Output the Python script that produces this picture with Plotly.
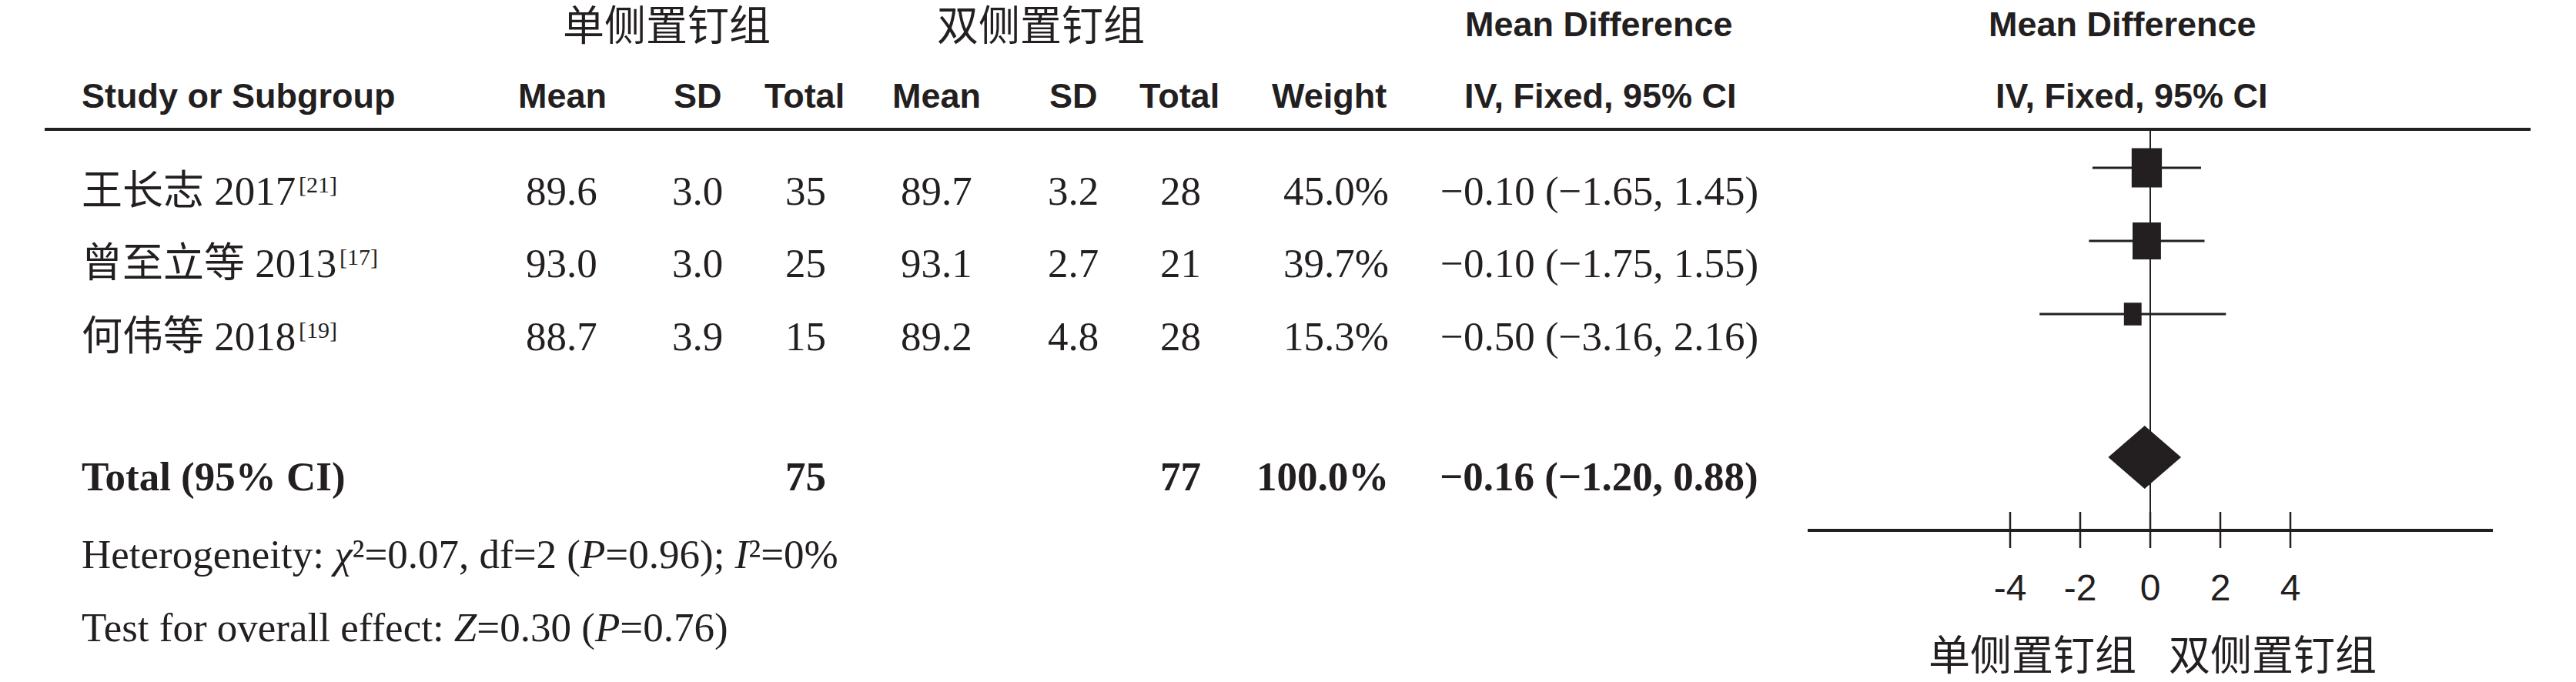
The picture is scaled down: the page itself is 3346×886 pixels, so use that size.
import plotly.graph_objects as go

W, H = 3346, 886

# ---- data ----
study_names = ["王长志", "曾至立等", "何伟等"]
study_years = ["2017", "2013", "2018"]
study_refs = ["21", "17", "19"]
uni_mean = [89.6, 93.0, 88.7]
uni_sd = [3.0, 3.0, 3.9]
uni_n = [35, 25, 15]
bi_mean = [89.7, 93.1, 89.2]
bi_sd = [3.2, 2.7, 4.8]
bi_n = [28, 21, 28]
weights = [45.0, 39.7, 15.3]
md = [-0.10, -0.10, -0.50]
ci_low = [-1.65, -1.75, -3.16]
ci_high = [1.45, 1.55, 2.16]

total_uni_n = 75
total_bi_n = 77
total_weight = 100.0
total_md = -0.16
total_low = -1.20
total_high = 0.88

het_chi2 = 0.07
het_df = 2
het_p = 0.96
het_i2 = 0
z_value = 0.30
z_p = 0.76

tick_vals = [-4, -2, 0, 2, 4]
tick_text = ["-4", "-2", "0", "2", "4"]
group_left = "单侧置钉组"
group_right = "双侧置钉组"

# ---- layout constants (pixels from the top) ----
SERIF = "Liberation Serif, Times New Roman, Noto Sans CJK SC, serif"
SANS = "Liberation Sans, Arial, sans-serif"
CJK = "Liberation Sans, Noto Sans CJK SC, sans-serif"
BODY = 53
HEAD = 45
CJK_SIZE = 54
REF_SIZE = 30

row_text_y = [248, 342, 437]
row_mark_y = [218, 313, 408]
total_text_y = 619
total_mark_y = 594
het_y = 720
test_y = 815
head1_y = 31
head1_cjk_y = 34
head2_y = 124
rule_y = 168
axis_y = 689
tick_top, tick_bot = 665, 712
tick_label_y = 768
axis_label_y = 852
name_x = 104

px_per_unit = 45.5
plot_left, plot_right = 2348, 3238
x_range = [-(2793 - plot_left) / px_per_unit, (plot_right - 2793) / px_per_unit]

INK = "#231f20"


def fmt_md(m, lo, hi):
    f = lambda v: f"{v:.2f}".replace("-", "\u2212")
    return f"{f(m)} ({f(lo)}, {f(hi)})"


annotations = []


def add_text(text, x, y, size=BODY, family=SERIF, anchor="center", bold=False):
    annotations.append(dict(
        text=f"<b>{text}</b>" if bold else text,
        x=x / W, xref="paper", y=y, yref="y",
        xanchor=anchor, yanchor="middle", showarrow=False,
        font=dict(family=family, size=size, color=INK),
    ))


# header
add_text(group_left, 866, head1_cjk_y, size=CJK_SIZE, family=CJK)
add_text(group_right, 1352, head1_cjk_y, size=CJK_SIZE, family=CJK)
add_text("Mean Difference", 2077, head1_y, size=HEAD, family=SANS, bold=True)
add_text("Mean Difference", 2757, head1_y, size=HEAD, family=SANS, bold=True)

add_text("Study or Subgroup", name_x, head2_y, size=HEAD, family=SANS, anchor="left", bold=True)
for label, cx in [("Mean", 730), ("SD", 906), ("Total", 1045),
                  ("Mean", 1216), ("SD", 1394), ("Total", 1532)]:
    add_text(label, cx, head2_y, size=HEAD, family=SANS, bold=True)
add_text("Weight", 1803, head2_y, size=HEAD, family=SANS, anchor="right", bold=True)
add_text("IV, Fixed, 95% CI", 2079, head2_y, size=HEAD, family=SANS, bold=True)
add_text("IV, Fixed, 95% CI", 2769, head2_y, size=HEAD, family=SANS, bold=True)

# study rows
for i, y in enumerate(row_text_y):
    add_text(f"{study_names[i]} {study_years[i]}", name_x, y, anchor="left")
    # citation mark set small and raised just after the study label
    label_end = name_x + BODY * (len(study_names[i]) + 0.25 + 0.5 * len(study_years[i]))
    add_text(f"[{study_refs[i]}]", label_end + 4, y - 9, size=REF_SIZE, anchor="left")
    add_text(f"{uni_mean[i]:.1f}", 729, y)
    add_text(f"{uni_sd[i]:.1f}", 906, y)
    add_text(f"{uni_n[i]}", 1046, y)
    add_text(f"{bi_mean[i]:.1f}", 1216, y)
    add_text(f"{bi_sd[i]:.1f}", 1394, y)
    add_text(f"{bi_n[i]}", 1533, y)
    add_text(f"{weights[i]:.1f}%", 1806, y, anchor="right")
    add_text(fmt_md(md[i], ci_low[i], ci_high[i]), 2077, y)

# total row
add_text("Total (95% CI)", name_x, total_text_y, anchor="left", bold=True)
add_text(f"{total_uni_n}", 1046, total_text_y, bold=True)
add_text(f"{total_bi_n}", 1533, total_text_y, bold=True)
add_text(f"{total_weight:.1f}%", 1806, total_text_y, anchor="right", bold=True)
add_text(fmt_md(total_md, total_low, total_high), 2077, total_text_y, bold=True)

add_text(f"Heterogeneity: <i>χ</i>²={het_chi2:.2f}, df={het_df} "
         f"(<i>P</i>={het_p:.2f}); <i>I</i>²={het_i2}%", name_x, het_y, anchor="left")
add_text(f"Test for overall effect: <i>Z</i>={z_value:.2f} (<i>P</i>={z_p:.2f})",
         name_x, test_y, anchor="left")

# direction labels under the axis
add_text(group_left, 2640, axis_label_y, size=CJK_SIZE, family=CJK)
add_text(group_right, 2952, axis_label_y, size=CJK_SIZE, family=CJK)

fig = go.Figure()

# line of no effect
fig.add_trace(go.Scatter(x=[0, 0], y=[rule_y + 2, tick_bot], mode="lines",
                         line=dict(color=INK, width=2), hoverinfo="skip"))

# confidence intervals
ci_x, ci_y = [], []
for lo, hi, y in zip(ci_low, ci_high, row_mark_y):
    ci_x += [lo, hi, None]
    ci_y += [y, y, None]
fig.add_trace(go.Scatter(x=ci_x, y=ci_y, mode="lines",
                         line=dict(color=INK, width=3), hoverinfo="skip"))

# weight boxes (area proportional to weight)
bx, by = [], []
for m, w, y in zip(md, weights, row_mark_y):
    h = 7.6 * w ** 0.5
    half_w = 0.77 * h / 2 / px_per_unit
    bx += [m - half_w, m + half_w, m + half_w, m - half_w, m - half_w, None]
    by += [y - h / 2, y - h / 2, y + h / 2, y + h / 2, y - h / 2, None]
fig.add_trace(go.Scatter(x=bx, y=by, mode="lines", fill="toself", fillcolor=INK,
                         line=dict(color=INK, width=0), hoverinfo="skip"))

# pooled estimate diamond
fig.add_trace(go.Scatter(
    x=[total_low, total_md, total_high, total_md, total_low],
    y=[total_mark_y, total_mark_y - 41, total_mark_y, total_mark_y + 41, total_mark_y],
    mode="lines", fill="toself", fillcolor=INK, line=dict(color=INK, width=0),
    hoverinfo="skip"))

# axis line and ticks
fig.add_trace(go.Scatter(x=x_range, y=[axis_y, axis_y], mode="lines",
                         line=dict(color=INK, width=4), hoverinfo="skip"))
tx, ty = [], []
for t in tick_vals:
    tx += [t, t, None]
    ty += [tick_top, tick_bot, None]
fig.add_trace(go.Scatter(x=tx, y=ty, mode="lines",
                         line=dict(color=INK, width=2.5), hoverinfo="skip"))
fig.add_trace(go.Scatter(x=tick_vals, y=[tick_label_y] * len(tick_vals), mode="text",
                         text=tick_text, textposition="middle center",
                         textfont=dict(family=SANS, size=48, color=INK),
                         hoverinfo="skip"))

fig.update_layout(
    width=W, height=H,
    margin=dict(l=0, r=0, t=0, b=0),
    paper_bgcolor="white", plot_bgcolor="white",
    showlegend=False,
    xaxis=dict(domain=[plot_left / W, plot_right / W], range=x_range, visible=False,
               fixedrange=True),
    yaxis=dict(domain=[0, 1], range=[H, 0], visible=False, fixedrange=True),
    annotations=annotations,
    shapes=[dict(type="line", xref="paper", yref="y", x0=58 / W, x1=3287 / W,
                 y0=rule_y, y1=rule_y, line=dict(color=INK, width=4))],
)

fig.write_html("out.html")
